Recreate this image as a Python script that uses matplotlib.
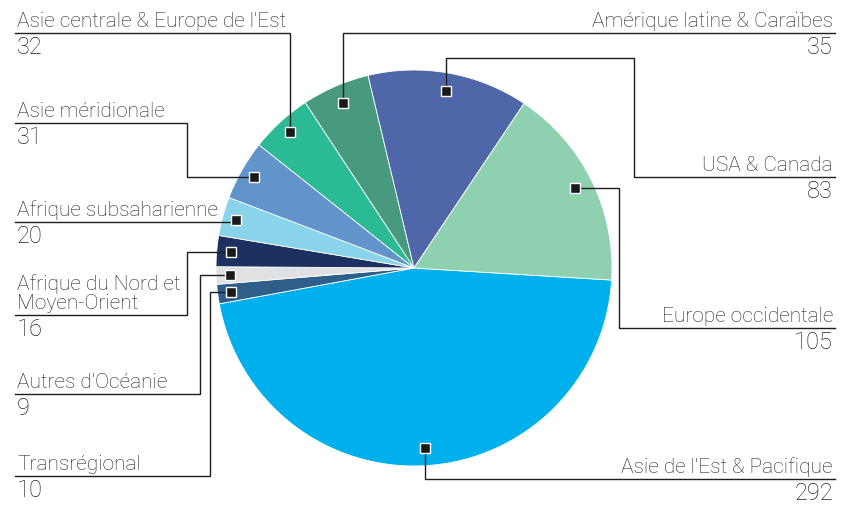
import matplotlib.pyplot as plt
import numpy as np

# données (sens horaire à partir de la droite)
regions = ["Asie de l'Est & Pacifique", "Transrégional", "Autres d'Océanie",
           "Afrique du Nord et\nMoyen-Orient", "Afrique subsaharienne",
           "Asie méridionale", "Asie centrale & Europe de l'Est",
           "Amérique latine & Caraïbes", "USA & Canada", "Europe occidentale"]
values = [292, 10, 9, 16, 20, 31, 32, 35, 83, 105]
colors = ["#00B0EC", "#2D5F8A", "#E0E1E3", "#1C315F", "#89D4EA",
          "#6194CA", "#2ABB94", "#489A7E", "#4F67A8", "#8ED0B0"]

# mise en page des étiquettes (pixels, y vers le bas)
# side, line_y, elbow_x (None = vertical direct), via_y
layout = [
    ("right", 479, None, None),
    ("left", 476, 210, None),
    ("left", 394, 200, None),
    ("left", 315, 187, None),
    ("left", 222, None, None),
    ("left", 123, 187, None),
    ("left", 33, None, None),
    ("right", 33, None, None),
    ("right", 177, 634, 58),
    ("right", 328, 619, None),
]

W, H = 845, 505
CX, CY, R = 414, 268, 198
START = -3.5
TXT = "#222222"
LINE = "#1e1e1e"

plt.rcParams['font.family'] = ['Roboto', 'DejaVu Sans']

fig = plt.figure(figsize=(W / 100, H / 100), dpi=100)
ax = fig.add_axes([0, 0, 1, 1])


def Y(py):
    return H - py


wedges, _ = ax.pie(values, colors=colors, startangle=START, counterclock=False,
                   center=(CX, Y(CY)), radius=R,
                   wedgeprops=dict(edgecolor='white', linewidth=0.6))

for w, name, val, (side, ly, ex, via) in zip(wedges, regions, values, layout):
    mid = np.deg2rad((w.theta1 + w.theta2) / 2)
    rr = 0.91 * R if side == "right" else 0.93 * R
    mx = CX + rr * np.cos(mid)
    my = CY - rr * np.sin(mid)

    # ligne de rappel
    if ex is None:
        xs = [mx, mx]
        ys = [my, ly]
    elif via is not None:
        xs = [mx, mx, ex, ex]
        ys = [my, via, via, ly]
    else:
        xs = [mx, ex, ex]
        ys = [my, my, ly]
    if side == "left":
        xs = xs + [15]
        ys = ys + [ly]
    else:
        xs = xs + [835]
        ys = ys + [ly]
    ax.plot(xs, [Y(v) for v in ys], color=LINE, lw=1.0, zorder=3,
            solid_joinstyle='miter')
    ax.plot(mx, Y(my), 's', ms=7, mfc='#1a1a1a', mec='white', mew=1, zorder=4)

    tx = 17 if side == "left" else 833
    ha = 'left' if side == "left" else 'right'
    ax.text(tx, Y(ly - 2), name, ha=ha, va='bottom', fontsize=15,
            fontweight='light', color=TXT, linespacing=1.0)
    ax.text(tx, Y(ly + 21), str(val), ha=ha, va='baseline', fontsize=17,
            fontweight='light', color=TXT)

ax.set_xlim(0, W)
ax.set_ylim(0, H)
ax.set_aspect('equal')
ax.axis('off')

plt.savefig("out.png", dpi=100)
